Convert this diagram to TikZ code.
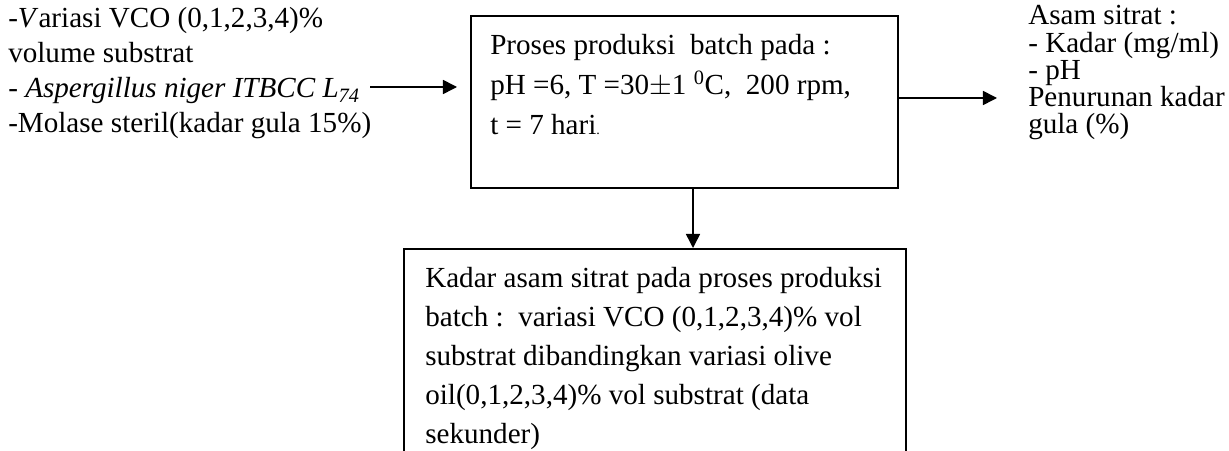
\documentclass[tikz,border=0pt]{standalone}
\usepackage{fontspec}
\setmainfont{Liberation Serif}
\usetikzlibrary{arrows.meta, positioning}

\tikzset{
  box/.style={draw, line width=1.1pt, inner sep=0pt, anchor=north west},
  txt/.style={align=left, inner sep=0pt, anchor=base west,
              font=\fontsize{20.7}{#1}\selectfont},
  txt/.default=24.9,
  arr/.style={-{Triangle[length=10pt,width=10pt]}, line width=1.1pt}
}

\begin{document}
\begin{tikzpicture}[x=0.025cm, y=-0.025cm]
  \useasboundingbox (0,0) rectangle (1229,451);
  \clip (0,0) rectangle (1229,451);
  % Inputs (anchored at the last line)
  \node[txt=24.9] (inp) at (8,133) {-\textit{V}ariasi VCO (0,1,2,3,4)\%\\
    volume substrat\\
    - \textit{Aspergillus niger ITBCC L\textsubscript{74}}\\
    -Molase steril(kadar gula 15\%)};
  % Batch process
  \node[box, minimum width=10.675cm, minimum height=4.3cm] (proc) at (470,15) {};
  \node[txt=28.45] (proctxt) at (490,135) {Proses produksi\ \ batch pada :\\
    pH =6, T =30$\pm$1 \textsuperscript{0}C,\ \ 200 rpm,\\
    t = 7 hari{\fontsize{10}{10}\selectfont .}};
  % Outputs
  \node[txt=19.4] (outp) at (1028,134) {Asam sitrat :\\
    - Kadar (mg/ml)\\
    - pH\\
    Penurunan kadar\\
    gula (\%)};
  % Result
  \node[box, minimum width=12.55cm, minimum height=6cm] (res) at (403,248) {};
  \node[txt=27.6] (restxt) at (425,443) {Kadar asam sitrat pada proses produksi\\
    batch :\ \ variasi VCO (0,1,2,3,4)\% vol\\
    substrat dibandingkan variasi olive\\
    oil(0,1,2,3,4)\% vol substrat (data\\
    sekunder)};
  % Arrows
  \coordinate (inA) at (370,87);
  \coordinate (inB) at (457,87);
  \coordinate (outA) at (997,98);
  \coordinate (dn) at (693,200);
  \draw[arr] (inA) -- (inB);
  \draw[arr] (outA -| proc.east) -- (outA);
  \draw[arr] (dn |- proc.south) -- (dn |- res.north);
\end{tikzpicture}
\end{document}
